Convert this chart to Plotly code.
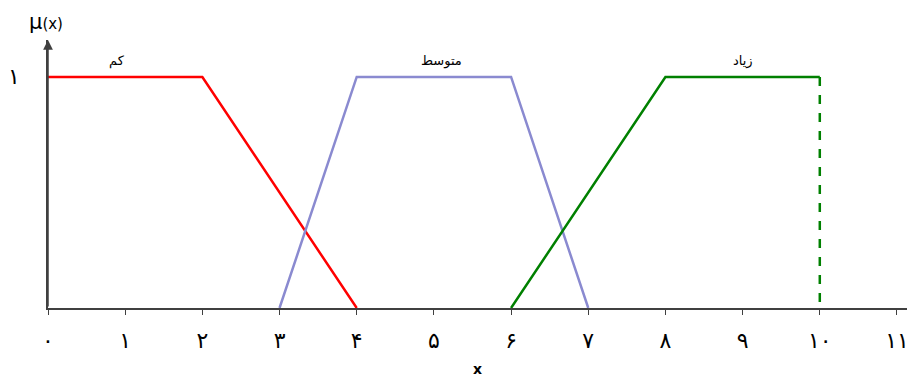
import plotly.graph_objects as go

# توابع عضویت فازی
x_kam = [0, 2, 4]
mu_kam = [1, 1, 0]

x_motavaset = [3, 4, 6, 7]
mu_motavaset = [0, 1, 1, 0]

x_ziad = [6, 8, 10]
mu_ziad = [0, 1, 1]

x_edge = [10, 10]
mu_edge = [1, 0]

x_ticks = list(range(12))
x_labels = ['۰', '۱', '۲', '۳', '۴', '۵', '۶', '۷', '۸', '۹', '۱۰', '۱۱']

font = 'DejaVu Sans, Arial'

fig = go.Figure()
fig.add_trace(go.Scatter(x=x_kam, y=mu_kam, mode='lines',
                         line=dict(color='#ff0000', width=2.5)))
fig.add_trace(go.Scatter(x=x_motavaset, y=mu_motavaset, mode='lines',
                         line=dict(color='#8a8ad0', width=2.5)))
fig.add_trace(go.Scatter(x=x_ziad, y=mu_ziad, mode='lines',
                         line=dict(color='#008000', width=2.5)))
fig.add_trace(go.Scatter(x=x_edge, y=mu_edge, mode='lines',
                         line=dict(color='#008000', width=2.5, dash='dash')))

# برچسب مجموعه‌ها
for txt, xv in [('کم', 0.9), ('متوسط', 5.1), ('زیاد', 9.0)]:
    fig.add_annotation(x=xv, y=1.07, text=txt, showarrow=False,
                       font=dict(family=font, size=13, color='black'))

# پیکان محور عمودی
fig.add_annotation(x=0, y=1.16, ax=0, ay=0, xref='x', yref='y', axref='x', ayref='y',
                   text='', showarrow=True, arrowhead=2, arrowsize=1.3,
                   arrowwidth=1.5, arrowcolor='#404040')

fig.add_annotation(x=0, y=1, xref='paper', yref='paper', yanchor='bottom',
                   xanchor='center', xshift=-2, yshift=4, showarrow=False,
                   text="μ<span style='font-size:15px'>(x)</span>",
                   font=dict(family=font, size=21, color='black'))

fig.add_annotation(x=0, y=1, xref='paper', yref='y', xanchor='right', xshift=-26,
                   showarrow=False, text='۱',
                   font=dict(family=font, size=22, color='black'))

fig.update_layout(
    width=909, height=380,
    margin=dict(l=48, r=2, t=40, b=72),
    plot_bgcolor='white', paper_bgcolor='white',
    showlegend=False,
    xaxis=dict(range=[0, 11.13], tickvals=x_ticks, ticktext=x_labels,
               automargin=False, ticklabeloverflow='allow',
               ticks='outside', ticklen=5, tickcolor='#404040',
               ticklabelstandoff=7,
               showline=True, linecolor='#404040', linewidth=1.5,
               showgrid=False, zeroline=False,
               tickfont=dict(family=font, size=22, color='black'),
               title=dict(text='<b>x</b>', font=dict(family=font, size=14, color='black'),
                          standoff=12)),
    yaxis=dict(range=[0, 1.16], showticklabels=False, ticks='', automargin=False,
               showline=True, linecolor='#404040', linewidth=1.5,
               showgrid=False, zeroline=False),
)

# صفحه بدون حاشیهٔ پیش‌فرض مرورگر
fig.write_html("out.html", config={'displayModeBar': False},
               post_script="document.body.style.margin='0';")
